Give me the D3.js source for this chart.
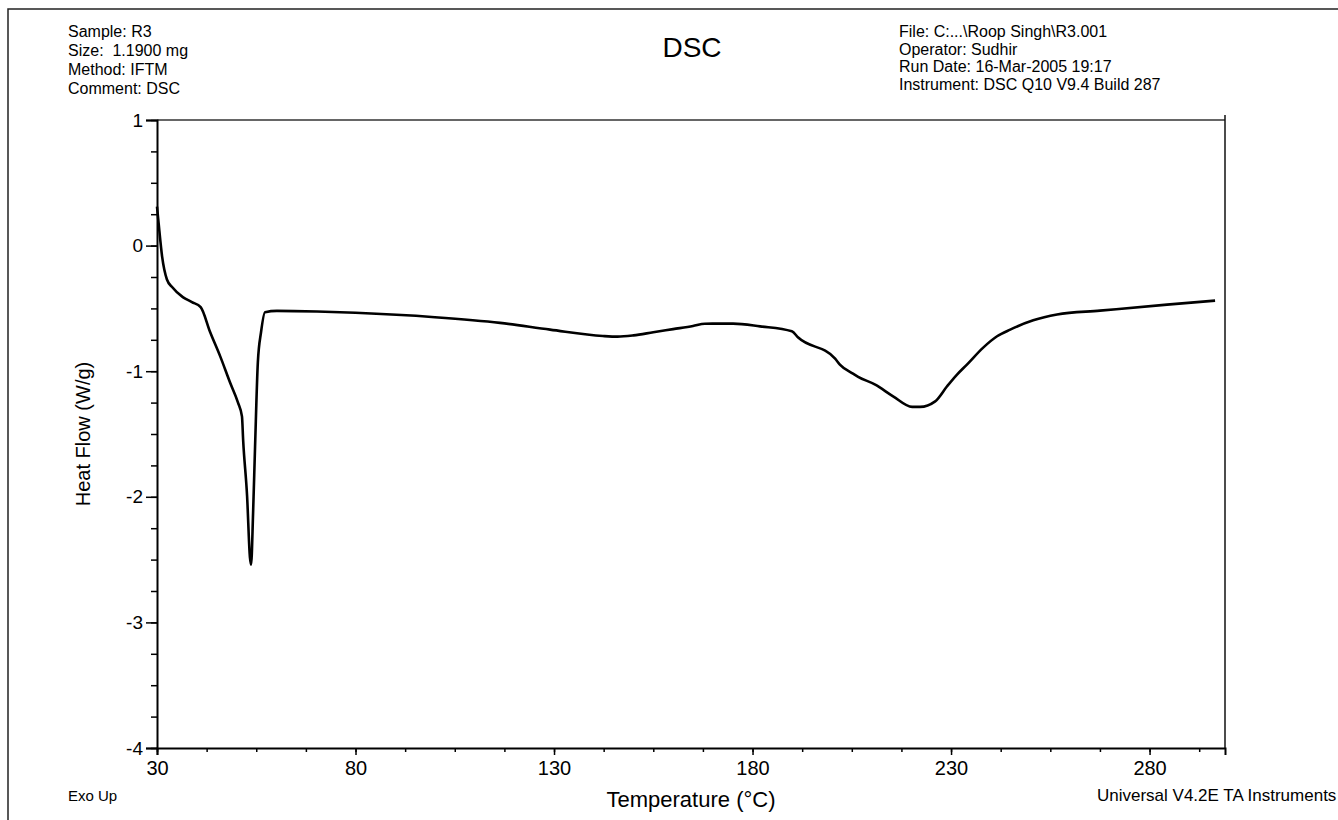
<!DOCTYPE html>
<html>
<head>
<meta charset="utf-8">
<script src="https://cdn.jsdelivr.net/npm/d3@7"></script>
<style>
  body { margin: 0; background: #fff; }
  svg text { font-family: "Liberation Sans", Arial, sans-serif; fill: #000; }
</style>
</head>
<body>
<div id="chart"></div>
<script>
// DSC trace
const temps = [30.0, 30.4, 31.3, 32.5, 33.8, 36.5, 38.8, 41.0, 43.4, 45.9, 48.4, 50.4, 51.4, 51.7, 52.7, 53.4, 53.7, 54.2, 54.7, 55.4, 56.2, 57.2, 60.2, 70.3, 80, 100, 116.4, 129.0, 142.3, 146.0, 150.0, 155.0, 160.0, 165.0, 168.0, 175.1, 181.9, 189.9, 191.5, 200.8, 202.0, 205.3, 206.6, 210.9, 215.4, 220.2, 222.2, 226.0, 229.0, 231.5, 234.0, 238.1, 241.6, 244.9, 250.7, 256.7, 267.5, 284.4, 296.5];
const heatFlow = [0.31, 0.18, -0.09, -0.27, -0.33, -0.41, -0.45, -0.49, -0.69, -0.88, -1.09, -1.25, -1.36, -1.55, -2.0, -2.48, -2.54, -2.13, -1.60, -0.93, -0.69, -0.53, -0.52, -0.525, -0.535, -0.57, -0.615, -0.669, -0.72, -0.725, -0.715, -0.69, -0.665, -0.64, -0.622, -0.621, -0.643, -0.682, -0.732, -0.90, -0.947, -1.02, -1.045, -1.107, -1.20, -1.284, -1.284, -1.24, -1.12, -1.027, -0.947, -0.812, -0.722, -0.669, -0.595, -0.549, -0.518, -0.47, -0.438];

const xTicks = [30, 80, 130, 180, 230, 280];
const yTicks = [-4, -3, -2, -1, 0, 1];
const headerLeft = ["Sample: R3", "Size:  1.1900 mg", "Method: IFTM", "Comment: DSC"];
const headerRight = ["File: C:...\\Roop Singh\\R3.001", "Operator: Sudhir", "Run Date: 16-Mar-2005 19:17", "Instrument: DSC Q10 V9.4 Build 287"];

const W = 1338, H = 820;
const plotL = 157, plotR = 1225, plotT = 120, plotB = 748;

const svg = d3.select("#chart").append("svg")
    .attr("width", W)
    .attr("height", H);

// page frame
svg.append("path")
    .attr("d", `M8,${H} L8,9 L${W},9`)
    .attr("fill", "none")
    .attr("stroke", "#222")
    .attr("stroke-width", 1.5);

const x = d3.scaleLinear().domain([30, 299]).range([plotL, plotR]);
const y = d3.scaleLinear().domain([-4, 1]).range([plotB, plotT]);

// top and right border of plot
svg.append("line")
    .attr("x1", plotL).attr("x2", plotR)
    .attr("y1", plotT).attr("y2", plotT)
    .attr("stroke", "#666").attr("stroke-width", 2);
svg.append("line")
    .attr("x1", plotR).attr("x2", plotR)
    .attr("y1", plotT - 5).attr("y2", plotB)
    .attr("stroke", "#111").attr("stroke-width", 1.5);

// minor ticks
const xMinor = d3.range(30, 299, 12.5);
const yMinor = d3.range(-4, 1.01, 0.25);

svg.append("g")
    .attr("transform", `translate(0,${plotB})`)
    .call(d3.axisBottom(x).tickValues(xMinor).tickSize(4).tickFormat(""))
    .call(g => g.select(".domain").remove())
    .selectAll("line").attr("stroke-width", 1.5);

svg.append("g")
    .attr("transform", `translate(${plotL},0)`)
    .call(d3.axisLeft(y).tickValues(yMinor).tickSize(6).tickFormat(""))
    .call(g => g.select(".domain").remove())
    .selectAll("line").attr("stroke-width", 1.5);

// major axes
const xAxis = svg.append("g")
    .attr("transform", `translate(0,${plotB})`)
    .call(d3.axisBottom(x).tickValues(xTicks).tickSizeOuter(0).tickSize(7).tickPadding(6));
xAxis.select(".domain").attr("stroke-width", 2);
xAxis.selectAll("line").attr("stroke-width", 1.5);
xAxis.selectAll("text")
    .style("font-size", "20px")
    .style("font-family", "Liberation Sans, Arial, sans-serif");

const yAxis = svg.append("g")
    .attr("transform", `translate(${plotL},0)`)
    .call(d3.axisLeft(y).tickValues(yTicks).tickFormat(d => String(d))
        .tickSizeOuter(0).tickSize(11).tickPadding(3));
yAxis.select(".domain").attr("stroke-width", 2);
yAxis.selectAll("line").attr("stroke-width", 1.5);
yAxis.selectAll("text")
    .style("font-size", "19px")
    .style("font-family", "Liberation Sans, Arial, sans-serif");

// curve
const pts = temps.map((t, i) => [t, heatFlow[i]]);
const line = d3.line()
    .x(d => x(d[0]))
    .y(d => y(d[1]))
    .curve(d3.curveMonotoneX);

svg.append("path")
    .datum(pts)
    .attr("d", line)
    .attr("fill", "none")
    .attr("stroke", "#000")
    .attr("stroke-width", 2.6)
    .attr("stroke-linejoin", "round");

// header
svg.append("text")
    .attr("x", 692).attr("y", 57)
    .attr("text-anchor", "middle")
    .style("font-size", "28px")
    .text("DSC");

svg.selectAll(".hl")
    .data(headerLeft)
    .enter().append("text")
    .attr("x", 68)
    .attr("y", (d, i) => 37 + i * 19)
    .style("font-size", "16px")
    .style("white-space", "pre")
    .text(d => d);

svg.selectAll(".hr")
    .data(headerRight)
    .enter().append("text")
    .attr("x", 899)
    .attr("y", (d, i) => 37 + i * 17.5)
    .style("font-size", "16px")
    .text(d => d);

// axis titles
svg.append("text")
    .attr("transform", `translate(90,${(plotT + plotB) / 2}) rotate(-90)`)
    .attr("text-anchor", "middle")
    .style("font-size", "20px")
    .text("Heat Flow (W/g)");

svg.append("text")
    .attr("x", (plotL + plotR) / 2).attr("y", 807)
    .attr("text-anchor", "middle")
    .style("font-size", "22px")
    .text("Temperature (°C)");

svg.append("text")
    .attr("x", 68).attr("y", 801)
    .style("font-size", "15px")
    .text("Exo Up");

svg.append("text")
    .attr("x", 1097).attr("y", 801)
    .style("font-size", "17px")
    .text("Universal V4.2E TA Instruments");
</script>
</body>
</html>
